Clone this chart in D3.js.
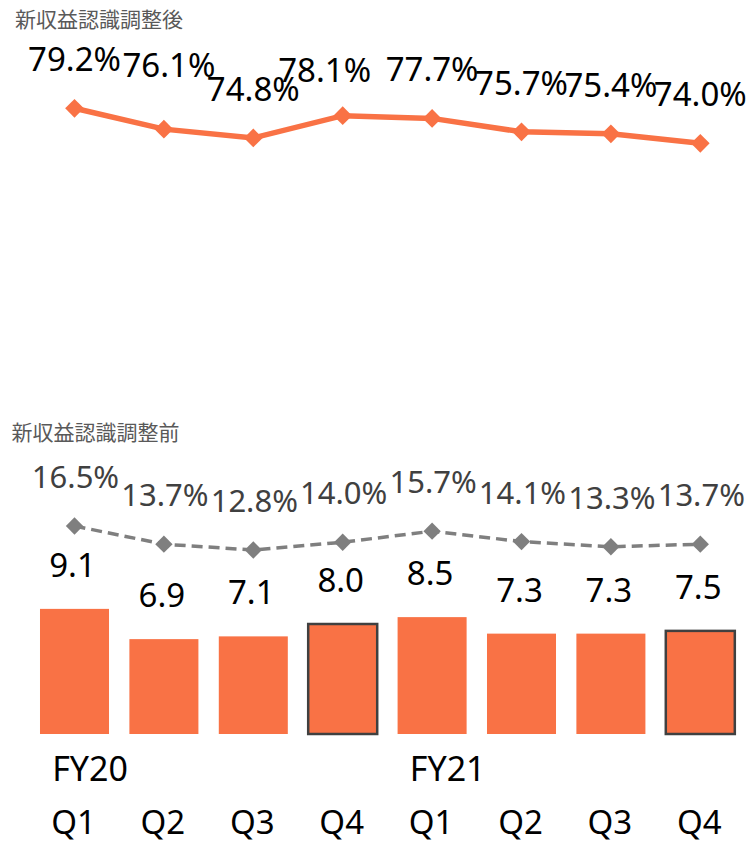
<!doctype html>
<html lang="ja">
<head>
  <meta charset="utf-8">
  <title>新収益認識 比較</title>
  <style>
    body { margin: 0; background: #fff; }
    svg { display: block; font-family: "Noto Sans", sans-serif; }
    .title { font-family: "Noto Sans CJK JP", sans-serif; font-size: 21px; fill: #595959; }
  </style>
</head>
<body>
<div id="chart"></div>

<script src="https://cdn.jsdelivr.net/npm/d3@7"></script>
<script>
// data
var quarters = ["Q1", "Q2", "Q3", "Q4", "Q1", "Q2", "Q3", "Q4"];
var years = ["FY20", "", "", "", "FY21", "", "", ""];
var adjustedPct = [79.2, 76.1, 74.8, 78.1, 77.7, 75.7, 75.4, 74.0];
var unadjustedPct = [16.5, 13.7, 12.8, 14.0, 15.7, 14.1, 13.3, 13.7];
var barValues = [9.1, 6.9, 7.1, 8.0, 8.5, 7.3, 7.3, 7.5];

// little label shifts where the original labels were moved by hand
var topNudge = [[0, 0], [5, -15], [0, 0], [-18, 3], [0, 0], [0, 0], [0, 0], [0, 0]];

var W = 750, H = 844;
var orange = "#f97245", gray = "#7f7f7f";

var svg = d3.select("#chart").append("svg")
  .attr("width", W).attr("height", H);

var idx = d3.range(quarters.length);

var x = d3.scaleBand()
  .domain(idx)
  .range([29.8, 745])
  .paddingInner(0.228)
  .paddingOuter(0.114);
var cx = function(i) { return x(i) + x.bandwidth() / 2; };

var yTop = d3.scaleLinear().domain([70, 80]).range([170.2, 102.9]);
var yPct = d3.scaleLinear().domain([10, 20]).range([568.2, 503.3]);
var yBar = d3.scaleLinear().domain([0, 10]).range([734, 596.5]);

var diamond = d3.symbol(d3.symbolSquare, 175);
var diamondSmall = d3.symbol(d3.symbolSquare, 150);

// titles
svg.append("text").attr("class", "title").attr("x", 15).attr("y", 26.5).text("新収益認識調整後");
svg.append("text").attr("class", "title").attr("x", 11.5).attr("y", 440).text("新収益認識調整前");

// --- top: adjusted ratio line ---
var gTop = svg.append("g");
gTop.append("path")
  .datum(idx)
  .attr("fill", "none")
  .attr("stroke", orange)
  .attr("stroke-width", 5.5)
  .attr("d", d3.line().x(cx).y(function(i) { return yTop(adjustedPct[i]); }));

gTop.selectAll(".mk").data(idx).join("path")
  .attr("d", diamond)
  .attr("fill", orange)
  .attr("transform", function(i) { return "translate(" + cx(i) + "," + yTop(adjustedPct[i]) + ") rotate(45)"; });

gTop.selectAll(".lb").data(idx).join("text")
  .attr("x", function(i) { return cx(i) + topNudge[i][0]; })
  .attr("y", function(i) { return yTop(adjustedPct[i]) - 37 + topNudge[i][1]; })
  .attr("text-anchor", "middle")
  .attr("font-size", 33)
  .attr("fill", "#000")
  .text(function(i) { return adjustedPct[i].toFixed(1) + "%"; });

// --- bottom: bars ---
var gBars = svg.append("g");
gBars.selectAll("rect").data(idx).join("rect")
  .attr("x", function(i) { return x(i); })
  .attr("y", function(i) { return yBar(barValues[i]); })
  .attr("width", x.bandwidth())
  .attr("height", function(i) { return yBar(0) - yBar(barValues[i]); })
  .attr("fill", orange)
  .attr("stroke", function(i) { return quarters[i] === "Q4" ? "#404040" : "none"; })
  .attr("stroke-width", 2.5);

gBars.selectAll(".val").data(idx).join("text")
  .attr("x", function(i) { return cx(i) - 2; })
  .attr("y", function(i) { return yBar(barValues[i]) - 32; })
  .attr("text-anchor", "middle")
  .attr("font-size", 33)
  .attr("fill", "#000")
  .text(function(i) { return barValues[i].toFixed(1); });

// --- bottom: unadjusted ratio dashed line ---
var gPct = svg.append("g");
gPct.append("path")
  .datum(idx)
  .attr("fill", "none")
  .attr("stroke", gray)
  .attr("stroke-width", 3.5)
  .attr("stroke-dasharray", "11,6")
  .attr("d", d3.line().x(cx).y(function(i) { return yPct(unadjustedPct[i]); }));

gPct.selectAll(".mk").data(idx).join("path")
  .attr("d", diamondSmall)
  .attr("fill", gray)
  .attr("transform", function(i) { return "translate(" + cx(i) + "," + yPct(unadjustedPct[i]) + ") rotate(45)"; });

gPct.selectAll(".lb").data(idx).join("text")
  .attr("x", function(i) { return cx(i) + 1; })
  .attr("y", function(i) { return yPct(unadjustedPct[i]) - 38; })
  .attr("text-anchor", "middle")
  .attr("font-size", 31)
  .attr("fill", "#404040")
  .text(function(i) { return unadjustedPct[i].toFixed(1) + "%"; });

// --- category labels ---
var gCats = svg.append("g").attr("fill", "#000");
var qText = gCats.selectAll(".q").data(idx).join("text")
  .attr("x", function(i) { return cx(i) - 1; })
  .attr("y", 834)
  .attr("text-anchor", "middle")
  .attr("font-size", 33)
  .text(function(i) { return quarters[i]; });

qText.each(function(i) {
  if (!years[i]) return;
  var w = this.getComputedTextLength();
  gCats.append("text")
    .attr("x", cx(i) - 1 - w / 2 + 1)
    .attr("y", 781)
    .attr("font-size", 34)
    .text(years[i]);
});
</script>
</body>
</html>
